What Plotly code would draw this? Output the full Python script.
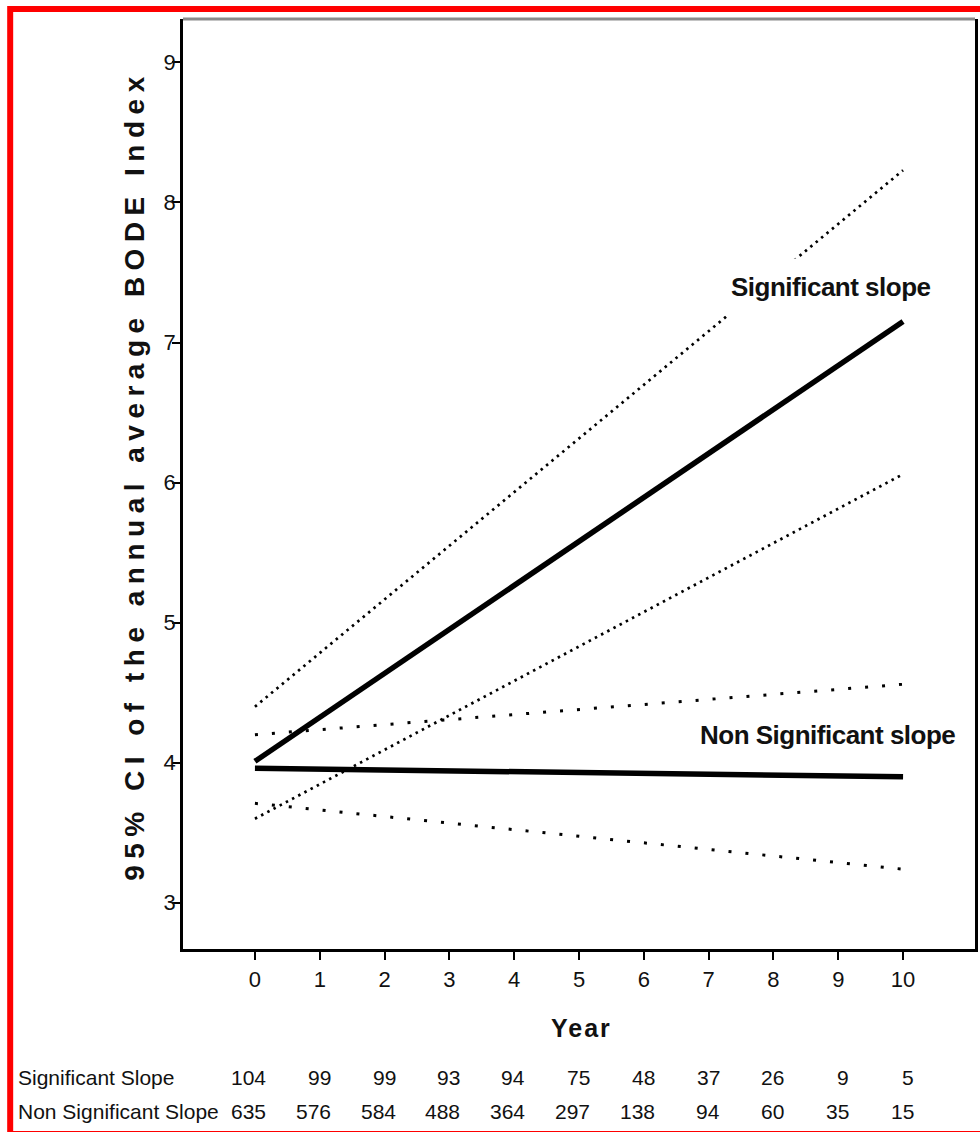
import plotly.graph_objects as go

# ---- data ----
years_fit = [0, 10]
sig_mean = [4.01, 7.15]
sig_upper = [4.40, 8.23]
sig_lower = [3.60, 6.06]
nonsig_mean = [3.96, 3.90]
nonsig_upper = [4.20, 4.56]
nonsig_lower = [3.71, 3.24]

year_ticks = list(range(0, 11))
y_ticks = [3, 4, 5, 6, 7, 8, 9]
risk_labels = ["Significant Slope", "Non Significant Slope"]
risk_sig = [104, 99, 99, 93, 94, 75, 48, 37, 26, 9, 5]
risk_nonsig = [635, 576, 584, 488, 364, 297, 138, 94, 60, 35, 15]

NARROW = "Liberation Sans Narrow, Arial Narrow, Liberation Sans, Arial, sans-serif"
SANS = "Liberation Sans, Arial, sans-serif"

fig = go.Figure()

def add_line(y, width, dash):
    fig.add_trace(go.Scatter(x=years_fit, y=y, mode="lines",
                             line=dict(color="black", width=width, dash=dash),
                             showlegend=False, hoverinfo="skip"))

add_line(sig_upper, 2.7, "2.5px,4.5px")
add_line(sig_lower, 2.7, "2.5px,4.5px")
add_line(nonsig_upper, 3, "3px,14px")
add_line(nonsig_lower, 3, "3px,14px")
add_line(sig_mean, 5.5, "solid")
add_line(nonsig_mean, 5.5, "solid")

annotations = []
# line labels
annotations.append(dict(x=8.89, y=7.40, xref="x", yref="y", xanchor="center", yanchor="middle",
                        text='<b><span style="letter-spacing:-0.5px">Significant slope</span></b>',
                        showarrow=False, font=dict(family=NARROW, size=26, color="#111"),
                        bgcolor="white", borderpad=13))
annotations.append(dict(x=8.84, y=4.20, xref="x", yref="y", xanchor="center", yanchor="middle",
                        text='<b><span style="letter-spacing:-0.5px">Non Significant slope</span></b>',
                        showarrow=False, font=dict(family=NARROW, size=26, color="#111")))
# y axis title
annotations.append(dict(x=-0.0616, y=0.509, xref="paper", yref="paper", textangle=-90,
                        xanchor="center", yanchor="middle",
                        text='<b><span style="letter-spacing:6.5px">95% CI of the annual average BODE Index</span></b>',
                        showarrow=False, font=dict(family=SANS, size=28, color="#111")))
# x axis title
annotations.append(dict(x=0.503, y=-0.085, xref="paper", yref="paper", xanchor="center", yanchor="middle",
                        text='<b><span style="letter-spacing:2px">Year</span></b>',
                        showarrow=False, font=dict(family=SANS, size=25, color="#111")))
# risk table
row_y = [-0.1387, -0.1742]
for lab, ry in zip(risk_labels, row_y):
    annotations.append(dict(x=-0.2113, y=ry, xref="paper", yref="paper", xanchor="left", yanchor="middle",
                            text=lab, showarrow=False,
                            font=dict(family=NARROW, size=21, color="#111")))
for vals, ry in zip([risk_sig, risk_nonsig], row_y):
    for yr, v in zip(year_ticks, vals):
        annotations.append(dict(x=yr, y=ry, xref="x", yref="paper", xanchor="right", yanchor="middle",
                                xshift=13, text=str(v), showarrow=False,
                                font=dict(family=NARROW, size=21, color="#111")))

shapes = [
    # gray top frame line
    dict(type="line", xref="paper", yref="paper", x0=0, x1=1, y0=1, y1=1,
         line=dict(color="#8a8a8a", width=3)),
    # red outer border
    dict(type="rect", xref="paper", yref="paper", x0=-0.2182, x1=1.02, y0=-0.1989, y1=1.0108,
         line=dict(color="#ff0000", width=6), layer="above"),
]

fig.update_layout(
    width=980, height=1132,
    margin=dict(l=183, r=2, t=19, b=183),
    paper_bgcolor="white", plot_bgcolor="white",
    annotations=annotations, shapes=shapes,
    xaxis=dict(range=[-1.11, 11.11], tickvals=year_ticks, ticks="outside", ticklen=8, tickwidth=2,
               tickcolor="black", showline=True, linecolor="black", linewidth=3, showgrid=False,
               zeroline=False, tickfont=dict(family=NARROW, size=22, color="#111"),
               ticklabelstandoff=1),
    yaxis=dict(range=[2.67, 9.31], tickvals=y_ticks, ticks="outside", ticklen=8, tickwidth=2,
               tickcolor="black", showline=True, linecolor="black", linewidth=2.5, mirror=True,
               showgrid=False, zeroline=False, tickfont=dict(family=NARROW, size=22, color="#111"),
               ticklabelstandoff=-8),
)

fig.write_html("out.html")
